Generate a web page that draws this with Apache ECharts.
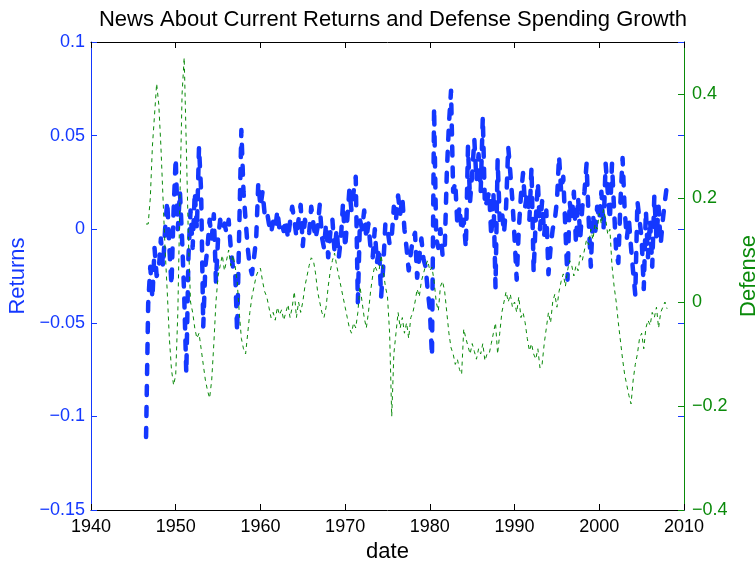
<!DOCTYPE html>
<html><head><meta charset="utf-8">
<script src="https://cdn.jsdelivr.net/npm/echarts@6/dist/echarts.min.js"></script>
<style>html,body{margin:0;padding:0;background:#fff}#c{width:755px;height:563px}</style>
</head><body><div id="c"></div>
<script>
// Quarterly observations, first one at 1946.5 (1946 Q3), last at 2008.0
const FIRST_DATE = 1946.5;
const STEP_YEARS = 0.25;

const returns = [
  -0.111, -0.04,
  -0.02, -0.037, -0.01, -0.025,
  -0.022, -0.005, -0.02, 0.0,
  0.015, -0.01, -0.03, 0.01,
  0.038, 0.0, 0.02, -0.005,
  -0.035, -0.077, -0.015, 0.01,
  -0.01, 0.02, 0.0, 0.044,
  0.02, -0.052, -0.02, -0.01,
  0.005, -0.005, 0.008, -0.028,
  -0.005, 0.005, 0.0, 0.003,
  -0.002, 0.005, -0.01, -0.02,
  -0.02, -0.055, 0.0, 0.053,
  0.02, 0.005, -0.01, -0.02,
  -0.024, -0.015, -0.005, 0.025,
  0.012, 0.02, 0.008, 0.01,
  0.003, -0.002, 0.004, 0.0,
  0.01, 0.0, 0.003, -0.001,
  0.005, -0.005, 0.004, 0.012,
  0.005, -0.004, 0.005, 0.013,
  -0.009, 0.005, 0.0, -0.002,
  0.012, 0.003, -0.005, 0.001,
  0.013, -0.004, -0.01, 0.003,
  -0.015, -0.002, 0.005, -0.012,
  0.0, -0.015, -0.005, 0.014,
  -0.01, 0.005, 0.021, 0.01,
  0.02, 0.028, -0.039, 0.005,
  0.0, 0.01, -0.005, 0.003,
  -0.01, -0.015, 0.0, -0.018,
  -0.01, -0.036, -0.02, 0.003,
  0.0, -0.008, -0.004, 0.012,
  0.005, 0.018, 0.008, 0.017,
  0.0, -0.01, -0.022, -0.013,
  -0.005, -0.002, -0.026, -0.015,
  -0.005, -0.016, -0.02, -0.033,
  -0.043, -0.068, 0.065, -0.005,
  -0.01, 0.0, -0.014, -0.012,
  0.03, 0.056, 0.074, 0.02,
  0.025, 0.002, 0.012, -0.001,
  0.005, -0.01, 0.044, 0.015,
  0.03, 0.048, 0.026, 0.04,
  0.02, 0.06, 0.012, 0.015,
  0.02, -0.004, 0.02, -0.031,
  0.037, 0.005, 0.01, -0.002,
  0.012, 0.044, 0.03, 0.015,
  -0.005, -0.027, 0.0, 0.018,
  0.03, 0.012, 0.02, 0.005,
  0.033, -0.023, 0.005, 0.025,
  0.0, 0.015, -0.003, 0.01,
  -0.024, -0.01, 0.0, 0.005,
  0.015, 0.039, 0.02, 0.028,
  0.0, -0.027, 0.015, 0.005,
  0.02, -0.008, 0.017, -0.005,
  0.012, 0.02, 0.035, 0.005,
  -0.02, 0.008, -0.003, 0.012,
  0.005, 0.02, 0.0, 0.035,
  0.02, 0.005, 0.035, 0.01,
  -0.013, -0.018, 0.015, 0.038,
  0.01, -0.005, 0.005, -0.01,
  -0.023, -0.035, 0.015, 0.005,
  -0.005, -0.032, 0.01, -0.015,
  0.005, -0.02, 0.018, -0.005,
  0.012, -0.008, 0.005, 0.015,
  0.024
];

const defense = [
  0.15, 0.15,
  0.2, 0.3, 0.36, 0.42,
  0.38, 0.3, 0.2, 0.1,
  0.02, -0.07, -0.13, -0.16,
  -0.14, -0.02, 0.2, 0.4,
  0.47, 0.3, 0.12, 0.0,
  -0.02, -0.05, -0.07, -0.06,
  -0.09, -0.12, -0.15, -0.17,
  -0.185, -0.15, -0.08, 0.0,
  0.05, 0.07, 0.09, 0.06,
  0.08, 0.1, 0.07, 0.09,
  0.07, 0.04, -0.02, -0.07,
  -0.09, -0.1, -0.06, -0.02,
  0.01, 0.03, 0.05, 0.06,
  0.065, 0.04, 0.02, 0.01,
  -0.01, -0.03, -0.02, -0.035,
  -0.01, -0.025, -0.015, -0.035,
  -0.02, -0.005, -0.03, -0.01,
  0.02, -0.03, 0.0, -0.02,
  0.0, 0.03, 0.05, 0.07,
  0.085, 0.08, 0.056, 0.02,
  0.0, -0.02, -0.03, -0.01,
  0.03, 0.06, 0.08, 0.094,
  0.07, 0.05, 0.03, 0.01,
  -0.01, -0.03, -0.05, -0.06,
  -0.04, -0.05, -0.02, 0.03,
  0.0, -0.03, -0.05, -0.02,
  0.02, 0.05, 0.07, 0.06,
  0.06, 0.09, 0.06, 0.03,
  0.01, -0.06, -0.22, -0.1,
  -0.06, -0.02, -0.05, -0.03,
  -0.06, -0.04, -0.07, -0.03,
  -0.02, 0.0, 0.025, 0.01,
  0.04, 0.055, 0.07, 0.08,
  0.06, 0.067, 0.04, 0.0,
  -0.017, 0.03, 0.04, 0.02,
  -0.02, -0.06, -0.088, -0.1,
  -0.12, -0.11, -0.13, -0.139,
  -0.052, -0.07, -0.085, -0.1,
  -0.08, -0.095, -0.11, -0.09,
  -0.1, -0.08, -0.113, -0.1,
  -0.1, -0.08, -0.06, -0.04,
  -0.1, -0.06, -0.02, 0.0,
  0.02, 0.0, 0.015, -0.01,
  0.0, -0.02, 0.01, -0.03,
  -0.02, -0.04, -0.07, -0.094,
  -0.08, -0.1, -0.11, -0.09,
  -0.127, -0.12, -0.08, -0.05,
  -0.02, -0.04, 0.0, 0.015,
  -0.01, 0.02, 0.04, 0.054,
  0.03, 0.06, 0.08, 0.07,
  0.05, 0.07, 0.06, 0.09,
  0.08, 0.1, 0.12, 0.11,
  0.14, 0.12, 0.15, 0.14,
  0.17, 0.15, 0.178, 0.16,
  0.13, 0.14, 0.07, 0.03,
  0.0, -0.04, -0.075, -0.11,
  -0.14, -0.16, -0.18, -0.196,
  -0.15, -0.12, -0.1, -0.07,
  -0.06, -0.09, -0.05, -0.035,
  -0.045, -0.02, -0.03, -0.01,
  -0.05, -0.02, -0.01, 0.0,
  -0.013
];

const xTicks = [1940, 1950, 1960, 1970, 1980, 1990, 2000, 2010];
const leftTicks = [-0.15, -0.1, -0.05, 0, 0.05, 0.1];
const rightTicks = [-0.4, -0.2, 0, 0.2, 0.4];

const dates = returns.map((_, i) => FIRST_DATE + i * STEP_YEARS);

const BLUE = '#1438ff';
const GREEN = '#0a8a0a';
const FONT = '"Liberation Sans", Arial, Helvetica, sans-serif';
const fmt = v => String(+(+v).toFixed(3)).replace('-', '\u2212');
const yearFmt = v => String(Math.round(v));

const chart = echarts.init(document.getElementById('c'), null, {renderer: 'canvas'});
chart.setOption({
  animation: false,
  backgroundColor: '#fff',
  textStyle: {fontFamily: FONT},
  title: {
    text: 'News About Current Returns and Defense Spending Growth',
    left: 388, top: 4, textAlign: 'center',
    textStyle: {fontFamily: FONT, fontSize: 22, fontWeight: 'normal', color: '#000'}
  },
  grid: {left: 91, right: 71, top: 42, bottom: 53, containLabel: false, outerBoundsMode: 'none'},
  xAxis: [{
    type: 'value', position: 'bottom',
    min: xTicks[0], max: xTicks[xTicks.length - 1], interval: 10,
    name: 'date', nameLocation: 'middle', nameGap: 28,
    nameTextStyle: {fontFamily: FONT, fontSize: 22, color: '#000'},
    axisLine: {show: true, onZero: false, lineStyle: {color: '#000', width: 1}},
    axisTick: {show: true, inside: true, length: 6, customValues: xTicks, lineStyle: {color: '#000'}},
    axisLabel: {show: true, customValues: xTicks, color: '#000', fontSize: 18, fontFamily: FONT, margin: 8, formatter: yearFmt},
    splitLine: {show: false}
  }, {
    type: 'value', position: 'top',
    min: xTicks[0], max: xTicks[xTicks.length - 1], interval: 10,
    axisLine: {show: true, onZero: false, lineStyle: {color: '#000', width: 1}},
    axisTick: {show: true, inside: true, length: 6, customValues: xTicks, lineStyle: {color: '#000'}},
    axisLabel: {show: false},
    splitLine: {show: false}
  }],
  yAxis: [{
    type: 'value', position: 'left',
    min: leftTicks[0], max: leftTicks[leftTicks.length - 1], interval: 0.05,
    name: 'Returns', nameLocation: 'middle', nameGap: 58, nameRotate: 90,
    nameTextStyle: {fontFamily: FONT, fontSize: 22, color: BLUE},
    axisLine: {show: true, onZero: false, lineStyle: {color: BLUE, width: 1}},
    axisTick: {show: true, inside: true, length: 6, customValues: leftTicks, lineStyle: {color: BLUE}},
    axisLabel: {show: true, customValues: leftTicks, color: BLUE, fontSize: 18, fontFamily: FONT, margin: 6, formatter: fmt},
    splitLine: {show: false}
  }, {
    type: 'value', position: 'right',
    min: leftTicks[0], max: leftTicks[leftTicks.length - 1], interval: 0.05,
    axisLine: {show: true, onZero: false, lineStyle: {color: BLUE, width: 1}},
    axisTick: {show: true, inside: true, length: 6, customValues: leftTicks, lineStyle: {color: BLUE}},
    axisLabel: {show: false},
    splitLine: {show: false}
  }, {
    type: 'value', position: 'right',
    min: rightTicks[0], max: 0.5, interval: 0.2,
    name: 'Defense', nameLocation: 'middle', nameGap: 45, nameRotate: 90,
    nameTextStyle: {fontFamily: FONT, fontSize: 22, color: GREEN},
    axisLine: {show: true, onZero: false, lineStyle: {color: GREEN, width: 1}},
    axisTick: {show: true, inside: true, length: 6, customValues: rightTicks, lineStyle: {color: GREEN}},
    axisLabel: {show: true, customValues: rightTicks, color: GREEN, fontSize: 18, fontFamily: FONT, margin: 8, formatter: fmt},
    splitLine: {show: false}
  }],
  series: [{
    name: 'Returns', type: 'line', xAxisIndex: 0, yAxisIndex: 0,
    data: dates.map((d, i) => [d, returns[i]]),
    symbol: 'none', showSymbol: false, z: 2,
    lineStyle: {color: BLUE, width: 4.5, type: [9, 12], cap: 'round', join: 'round'}
  }, {
    name: 'Defense', type: 'line', xAxisIndex: 0, yAxisIndex: 2,
    data: dates.map((d, i) => [d, defense[i]]),
    symbol: 'none', showSymbol: false, z: 3,
    lineStyle: {color: GREEN, width: 1, type: [4, 4]}
  }]
});
</script>
</body></html>
